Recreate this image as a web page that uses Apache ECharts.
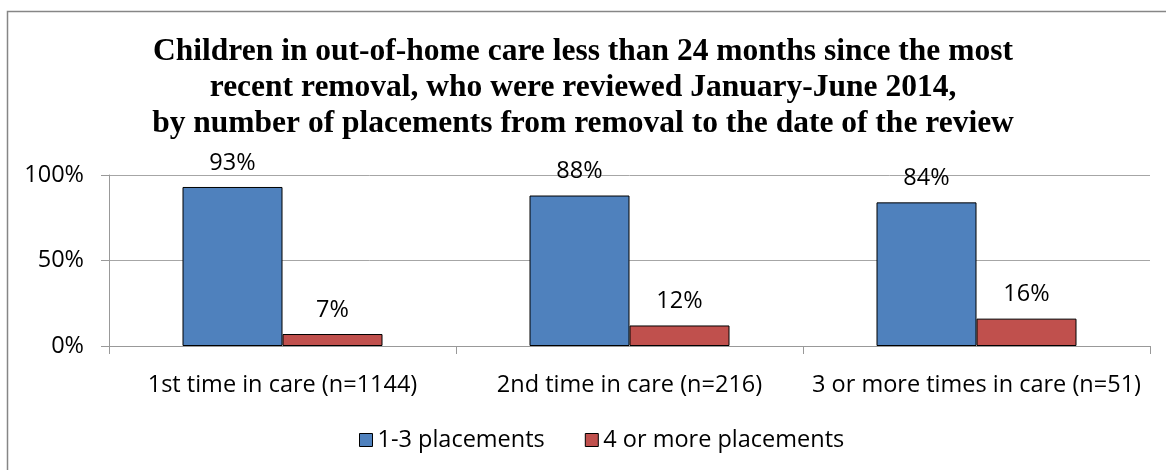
<!DOCTYPE html>
<html>
<head>
<meta charset="utf-8">
<script src="https://cdn.jsdelivr.net/npm/echarts@6/dist/echarts.min.js"></script>
<style>
  html, body { margin: 0; padding: 0; background: #fff; }
  #chart { width: 1166px; height: 470px; }
</style>
</head>
<body>
<div id="chart"></div>
<script>
(function() {
  // data
  var categories = [
    "1st time in care (n=1144)",
    "2nd time in care (n=216)",
    "3 or more times in care (n=51)"
  ];
  var lowPlacements = [93, 88, 84];   // 1-3 placements
  var highPlacements = [7, 12, 16];   // 4 or more placements
  var seriesNames = ["1-3 placements", "4 or more placements"];
  var colors = ["#4F81BD", "#C0504D"];

  var labelFont = "Open Sans, Liberation Sans, sans-serif";
  var labelSize = 23.5;

  var myChart = echarts.init(document.getElementById("chart"));

  var option = {
    animation: false,
    title: {
      text: "Children in out-of-home care less than 24 months since the most\n" +
            "recent removal, who were reviewed January-June 2014,\n" +
            "by number of placements from removal to the date of the review",
      left: "center",
      top: 29,
      textStyle: {
        fontFamily: "Liberation Serif, Times New Roman, serif",
        fontWeight: "bold",
        fontSize: 31.5,
        lineHeight: 36,
        color: "#000"
      }
    },
    // chart frame: only the left and top edges fall inside the picture
    graphic: [{
      type: "rect",
      shape: { x: 7.5, y: 11.5, width: 1300, height: 600 },
      style: { fill: "none", stroke: "#868686", lineWidth: 1.5 },
      silent: true
    }],
    legend: {
      top: 423,
      left: 354,
      itemWidth: 13,
      itemHeight: 13,
      itemGap: 40,
      icon: "rect",
      textStyle: { fontFamily: labelFont, fontSize: labelSize, color: "#000" },
      itemStyle: { borderColor: "#000", borderWidth: 1 },
      data: seriesNames
    },
    grid: {
      left: 109,
      right: 16,
      top: 175,
      height: 171
    },
    xAxis: {
      type: "category",
      data: categories,
      axisLine: { lineStyle: { color: "#999", width: 1 } },
      axisTick: { show: true, length: 8, lineStyle: { color: "#999" } },
      axisLabel: {
        interval: 0,
        hideOverlap: false,
        margin: 27,
        fontFamily: labelFont,
        fontSize: labelSize,
        color: "#000"
      }
    },
    yAxis: {
      type: "value",
      min: 0,
      max: 100,
      interval: 50,
      axisLine: { show: true, lineStyle: { color: "#999", width: 1 } },
      axisTick: { show: true, length: 8, lineStyle: { color: "#999" } },
      splitLine: { lineStyle: { color: "#a6a6a6", width: 1 } },
      axisLabel: {
        formatter: "{value}%",
        margin: 25,
        fontFamily: labelFont,
        fontSize: labelSize,
        color: "#000"
      }
    },
    series: [
      {
        name: seriesNames[0],
        type: "bar",
        data: lowPlacements,
        barWidth: 100,
        barGap: "0%",
        itemStyle: { color: colors[0], borderColor: "#000", borderWidth: 1 },
        label: {
          show: true,
          position: "top",
          distance: 12,
          formatter: "{c}%",
          fontFamily: labelFont,
          fontSize: labelSize,
          color: "#000"
        }
      },
      {
        name: seriesNames[1],
        type: "bar",
        data: highPlacements,
        barWidth: 100,
        barGap: "0%",
        itemStyle: { color: colors[1], borderColor: "#000", borderWidth: 1 },
        label: {
          show: true,
          position: "top",
          distance: 12,
          formatter: "{c}%",
          fontFamily: labelFont,
          fontSize: labelSize,
          color: "#000"
        }
      }
    ]
  };

  myChart.setOption(option);
  window.addEventListener("resize", function() {
    myChart.resize();
  });
})();
</script>
</body>
</html>
